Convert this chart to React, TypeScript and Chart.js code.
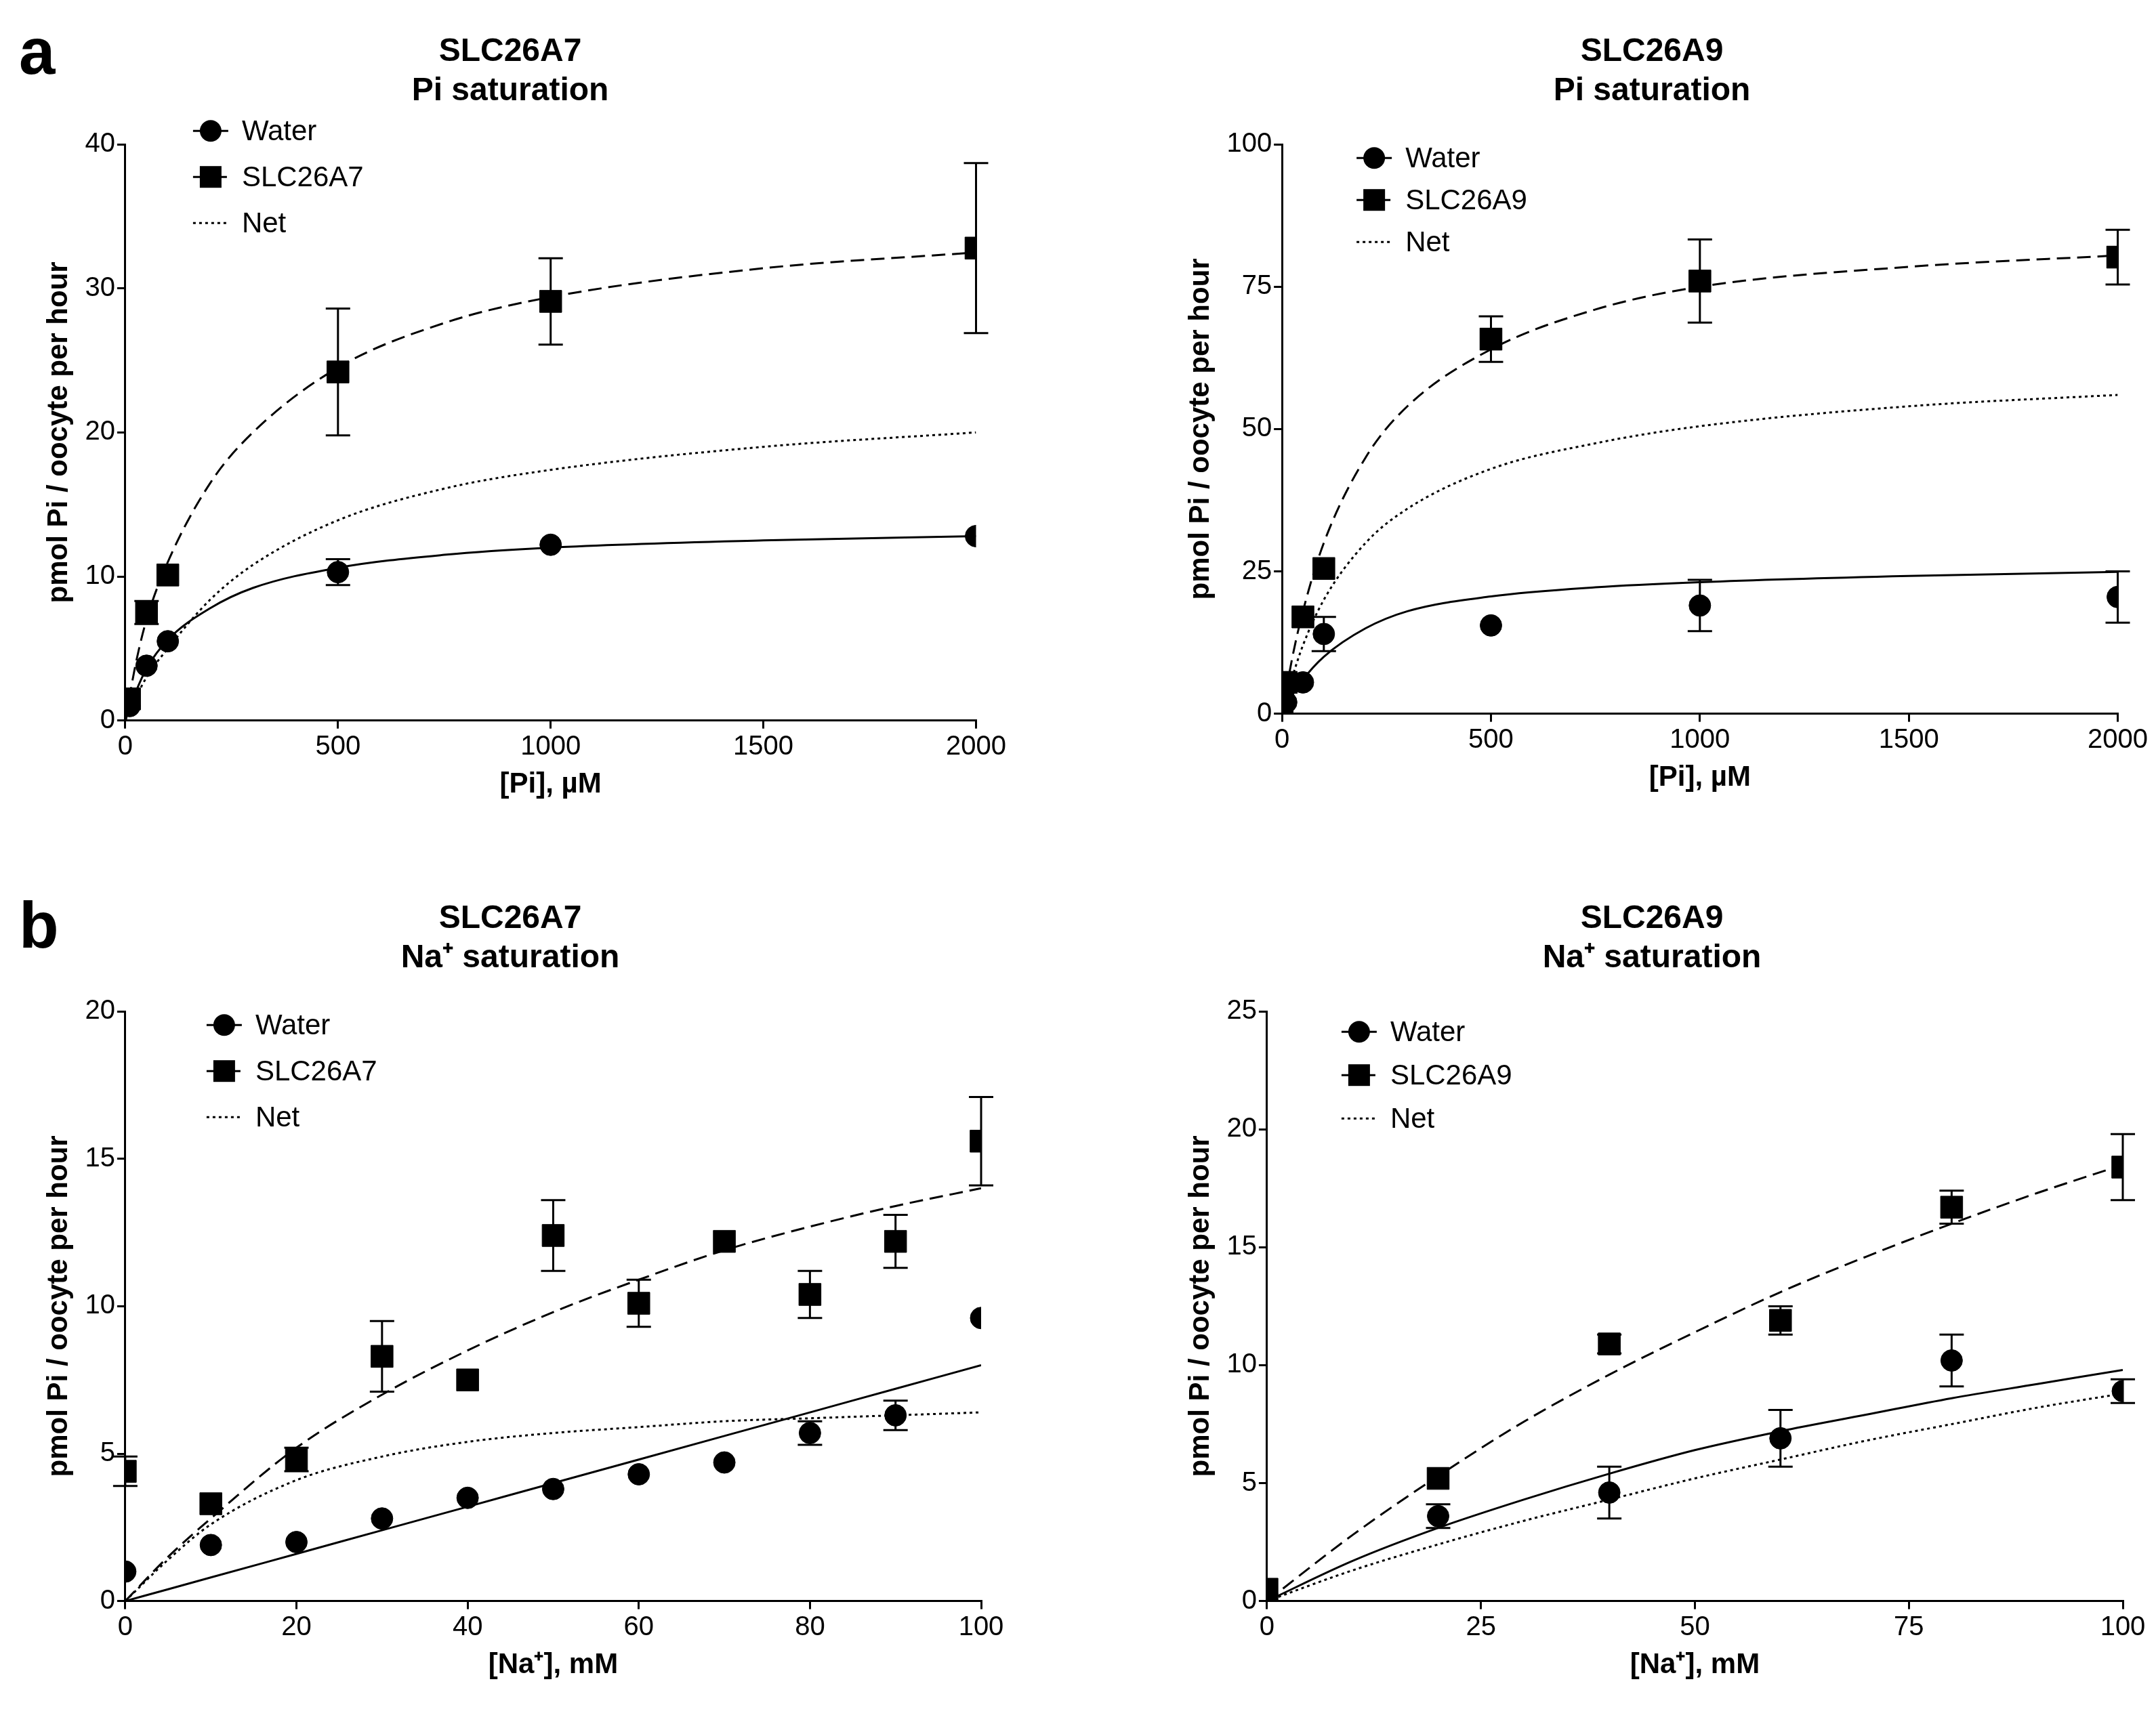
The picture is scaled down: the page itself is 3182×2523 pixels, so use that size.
import React, { useEffect, useRef } from "react";
import { Chart, registerables } from "chart.js";
Chart.register(...registerables);

// ---- Panel a left: SLC26A7 Pi saturation
const a7PiX = [10, 50, 100, 500, 1000, 2000];
const a7PiWater = [1.0, 3.8, 5.5, 10.3, 12.2, 12.8];
const a7PiWaterErr = [0, 0, 0, 0.9, 0, 0];
const a7PiTx = [1.5, 7.5, 10.1, 24.2, 29.1, 32.8];
const a7PiTxErr = [0, 0.8, 0, 4.4, 3.0, 5.9];
const a7PiFitX = [0, 25, 50, 100, 200, 300, 500, 750, 1000, 1500, 2000];
const a7PiFitTx = [0, 4, 7, 11, 16.5, 20, 24.5, 27.6, 29.4, 31.4, 32.5];
const a7PiFitWater = [0, 2, 3.6, 5.6, 7.8, 9.2, 10.6, 11.5, 12.0, 12.5, 12.8];
const a7PiFitNet = [0, 1.6, 3, 5, 8.4, 10.8, 13.9, 16.1, 17.4, 19.0, 20.0];

// ---- Panel a right: SLC26A9 Pi saturation
const a9PiX = [0, 10, 50, 100, 500, 1000, 2000];
const a9PiWater = [0.5, 2, 5.5, 14, 15.5, 19, 20.5];
const a9PiWaterErr = [0, 0, 0, 3, 0, 4.5, 4.5];
const a9PiTx = [1, 5.5, 17, 25.5, 65.8, 76, 80.2];
const a9PiTxErr = [0, 0, 0, 0, 4, 7.3, 4.8];
const a9PiFitX = [0, 25, 50, 100, 200, 300, 500, 750, 1000, 1500, 2000];
const a9PiFitTx = [0, 10, 18, 30, 45, 54, 64, 71, 75, 78.5, 80.5];
const a9PiFitWater = [0, 3.3, 6, 10, 15, 18, 20.6, 22.2, 23.1, 24.2, 24.9];
const a9PiFitNet = [0, 6.5, 12, 20, 30, 36, 43, 47.5, 50.5, 54, 56];

// ---- Panel b left: SLC26A7 Na+ saturation
const a7NaX = [0, 10, 20, 30, 40, 50, 60, 70, 80, 90, 100];
const a7NaWater = [1.0, 1.9, 2.0, 2.8, 3.5, 3.8, 4.3, 4.7, 5.7, 6.3, 9.6];
const a7NaWaterErr = [0, 0, 0, 0, 0, 0, 0, 0, 0.4, 0.5, 0];
const a7NaTx = [4.4, 3.3, 4.8, 8.3, 7.5, 12.4, 10.1, 12.2, 10.4, 12.2, 15.6];
const a7NaTxErr = [0.5, 0, 0.4, 1.2, 0, 1.2, 0.8, 0, 0.8, 0.9, 1.5];
const a7NaFitX = [0, 5, 10, 20, 30, 40, 50, 60, 70, 80, 90, 100];
const a7NaFitTx = [0, 1.5, 2.8, 5.2, 7.0, 8.5, 9.8, 10.9, 11.9, 12.7, 13.4, 14.0];
const a7NaFitWater = [0, 0.4, 0.8, 1.6, 2.4, 3.2, 4.0, 4.8, 5.6, 6.4, 7.2, 8.0];
const a7NaFitNet = [0, 1.4, 2.6, 4.1, 4.9, 5.4, 5.7, 5.9, 6.1, 6.2, 6.3, 6.4];

// ---- Panel b right: SLC26A9 Na+ saturation
const a9NaX = [0, 20, 40, 60, 80, 100];
const a9NaWater = [0.3, 3.6, 4.6, 6.9, 10.2, 8.9];
const a9NaWaterErr = [0, 0.5, 1.1, 1.2, 1.1, 0.5];
const a9NaTx = [0.5, 5.2, 10.9, 11.9, 16.7, 18.4];
const a9NaTxErr = [0, 0, 0.4, 0.6, 0.7, 1.4];
const a9NaFitX = [0, 10, 20, 30, 40, 50, 60, 70, 80, 90, 100];
const a9NaFitTx = [0, 2.8, 5.3, 7.6, 9.6, 11.4, 13.1, 14.6, 16.0, 17.3, 18.5];
const a9NaFitWater = [0, 1.7, 3.1, 4.3, 5.4, 6.4, 7.2, 7.9, 8.6, 9.2, 9.8];
const a9NaFitNet = [0, 1.3, 2.4, 3.4, 4.3, 5.2, 6.0, 6.8, 7.5, 8.2, 8.8];

const FONT = "'Liberation Sans', Arial, sans-serif";
const DASH = [20, 10];
const DOT = [4, 5];

const errorBars = {
  id: "errorBars",
  afterDatasetsDraw(chart: any) {
    const ctx = chart.ctx;
    const xs = chart.scales.x, ys = chart.scales.y;
    chart.data.datasets.forEach((ds: any) => {
      if (!ds.yerr) return;
      ctx.save();
      ctx.strokeStyle = "black";
      ctx.lineWidth = 3;
      ds.data.forEach((p: any, i: number) => {
        const e = ds.yerr[i];
        if (!e) return;
        const px = xs.getPixelForValue(p.x);
        const top = ys.getPixelForValue(p.y + e);
        const bot = ys.getPixelForValue(p.y - e);
        ctx.beginPath();
        ctx.moveTo(px, top); ctx.lineTo(px, bot);
        ctx.moveTo(px - 18, top); ctx.lineTo(px + 18, top);
        ctx.moveTo(px - 18, bot); ctx.lineTo(px + 18, bot);
        ctx.stroke();
      });
      ctx.restore();
    });
  },
};

const innerLegend = {
  id: "innerLegend",
  afterDraw(chart: any) {
    const opt = chart.options.plugins.innerLegend;
    if (!opt) return;
    const ctx = chart.ctx;
    const x0 = chart.chartArea.left + opt.dx;
    let y = chart.chartArea.top + opt.dy;
    const items = [
      { t: "Water", dash: [] as number[], m: "circle" },
      { t: opt.name, dash: DASH, m: "rect" },
      { t: "Net", dash: DOT, m: "" },
    ];
    ctx.save();
    items.forEach((it) => {
      ctx.strokeStyle = "black";
      ctx.lineWidth = 3;
      ctx.setLineDash(it.dash);
      ctx.beginPath();
      ctx.moveTo(x0, y); ctx.lineTo(x0 + 52, y);
      ctx.stroke();
      ctx.setLineDash([]);
      ctx.fillStyle = "black";
      if (it.m === "circle") {
        ctx.beginPath(); ctx.arc(x0 + 26, y, 16, 0, Math.PI * 2); ctx.fill();
      } else if (it.m === "rect") {
        ctx.fillRect(x0 + 10, y - 16, 32, 32);
      }
      ctx.font = `42px ${FONT}`;
      ctx.textBaseline = "middle";
      ctx.fillText(it.t, x0 + 72, y + 2);
      y += opt.gap;
    });
    ctx.restore();
  },
};

function pts(xs: number[], ys: number[]) {
  return xs.map((x, i) => ({ x, y: ys[i] }));
}

interface PanelProps {
  title: string[];
  xLabel: string;
  xMax: number; xStep: number; yMax: number; yStep: number;
  px: number[]; water: number[]; waterErr: number[]; tx: number[]; txErr: number[];
  fx: number[]; fTx: number[]; fWater: number[]; fNet: number[];
  name: string; w: number; h: number; legend: { dx: number; dy: number; gap: number };
}

function Panel(p: PanelProps) {
  const ref = useRef<HTMLCanvasElement>(null);
  useEffect(() => {
    const line = (data: number[], dash: number[]) => ({
      data: pts(p.fx, data), showLine: true, borderColor: "black", borderWidth: 3,
      borderDash: dash, pointRadius: 0, cubicInterpolationMode: "monotone", fill: false,
    });
    const chart = new Chart(ref.current!, {
      type: "scatter",
      data: {
        datasets: [
          line(p.fTx, DASH), line(p.fWater, []), line(p.fNet, DOT),
          { data: pts(p.px, p.water), yerr: p.waterErr, pointStyle: "circle", pointRadius: 16, backgroundColor: "black", borderColor: "black" } as any,
          { data: pts(p.px, p.tx), yerr: p.txErr, pointStyle: "rect", pointRadius: 23, backgroundColor: "black", borderColor: "black" } as any,
        ] as any,
      },
      options: {
        animation: false, responsive: false, devicePixelRatio: 1,
        layout: { padding: { left: 20, right: 40, top: 10, bottom: 10 } },
        plugins: {
          legend: { display: false }, tooltip: { enabled: false },
          title: { display: true, text: p.title, color: "black", font: { family: FONT, size: 48, weight: "bold" }, padding: { top: 0, bottom: 50 } },
          innerLegend: { ...p.legend, name: p.name },
        } as any,
        scales: {
          x: {
            type: "linear", min: 0, max: p.xMax,
            ticks: { stepSize: p.xStep, color: "black", font: { family: FONT, size: 40 }, callback: (v: any) => String(v) },
            grid: { drawOnChartArea: false, drawTicks: true, tickLength: 12, color: "black", lineWidth: 3 },
            border: { color: "black", width: 3 },
            title: { display: true, text: p.xLabel, color: "black", font: { family: FONT, size: 42, weight: "bold" }, padding: { top: 4 } },
          },
          y: {
            type: "linear", min: 0, max: p.yMax,
            ticks: { stepSize: p.yStep, color: "black", font: { family: FONT, size: 40 }, callback: (v: any) => String(v) },
            grid: { drawOnChartArea: false, drawTicks: true, tickLength: 12, color: "black", lineWidth: 3 },
            border: { color: "black", width: 3 },
            title: { display: true, text: "pmol Pi / oocyte per hour", color: "black", font: { family: FONT, size: 42, weight: "bold" }, padding: { bottom: 10 } },
          },
        },
      },
      plugins: [errorBars, innerLegend],
    });
    return () => chart.destroy();
  }, []);
  return <canvas ref={ref} width={p.w} height={p.h} style={{ width: p.w, height: p.h, display: "block" }} />;
}

const W = 1450;

export default function App() {
  const lbl: React.CSSProperties = { position: "absolute", fontFamily: FONT, fontWeight: "bold", fontSize: 96, lineHeight: 1 };
  return (
    <div style={{ position: "relative", width: 3166, height: 2500, background: "white" }}>
      <div style={{ ...lbl, left: 20, top: 20 }}>a</div>
      <div style={{ ...lbl, left: 20, top: 1310 }}>b</div>
      <div style={{ position: "absolute", left: 30, top: 30 }}>
        <Panel w={W} h={1160} title={["SLC26A7", "Pi saturation"]} xLabel="[Pi], µM" xMax={2000} xStep={500} yMax={40} yStep={10}
          px={a7PiX} water={a7PiWater} waterErr={a7PiWaterErr} tx={a7PiTx} txErr={a7PiTxErr}
          fx={a7PiFitX} fTx={a7PiFitTx} fWater={a7PiFitWater} fNet={a7PiFitNet} name="SLC26A7" legend={{ dx: 100, dy: -20, gap: 68 }} />
      </div>
      <div style={{ position: "absolute", left: 1715, top: 30 }}>
        <Panel w={W} h={1150} title={["SLC26A9", "Pi saturation"]} xLabel="[Pi], µM" xMax={2000} xStep={500} yMax={100} yStep={25}
          px={a9PiX} water={a9PiWater} waterErr={a9PiWaterErr} tx={a9PiTx} txErr={a9PiTxErr}
          fx={a9PiFitX} fTx={a9PiFitTx} fWater={a9PiFitWater} fNet={a9PiFitNet} name="SLC26A9" legend={{ dx: 110, dy: 20, gap: 62 }} />
      </div>
      <div style={{ position: "absolute", left: 30, top: 1310 }}>
        <Panel w={W} h={1180} title={["SLC26A7", "Na⁺ saturation"]} xLabel="[Na⁺], mM" xMax={100} xStep={20} yMax={20} yStep={5}
          px={a7NaX} water={a7NaWater} waterErr={a7NaWaterErr} tx={a7NaTx} txErr={a7NaTxErr}
          fx={a7NaFitX} fTx={a7NaFitTx} fWater={a7NaFitWater} fNet={a7NaFitNet} name="SLC26A7" legend={{ dx: 120, dy: 20, gap: 68 }} />
      </div>
      <div style={{ position: "absolute", left: 1715, top: 1310 }}>
        <Panel w={W} h={1180} title={["SLC26A9", "Na⁺ saturation"]} xLabel="[Na⁺], mM" xMax={100} xStep={25} yMax={25} yStep={5}
          px={a9NaX} water={a9NaWater} waterErr={a9NaWaterErr} tx={a9NaTx} txErr={a9NaTxErr}
          fx={a9NaFitX} fTx={a9NaFitTx} fWater={a9NaFitWater} fNet={a9NaFitNet} name="SLC26A9" legend={{ dx: 110, dy: 30, gap: 64 }} />
      </div>
    </div>
  );
}
